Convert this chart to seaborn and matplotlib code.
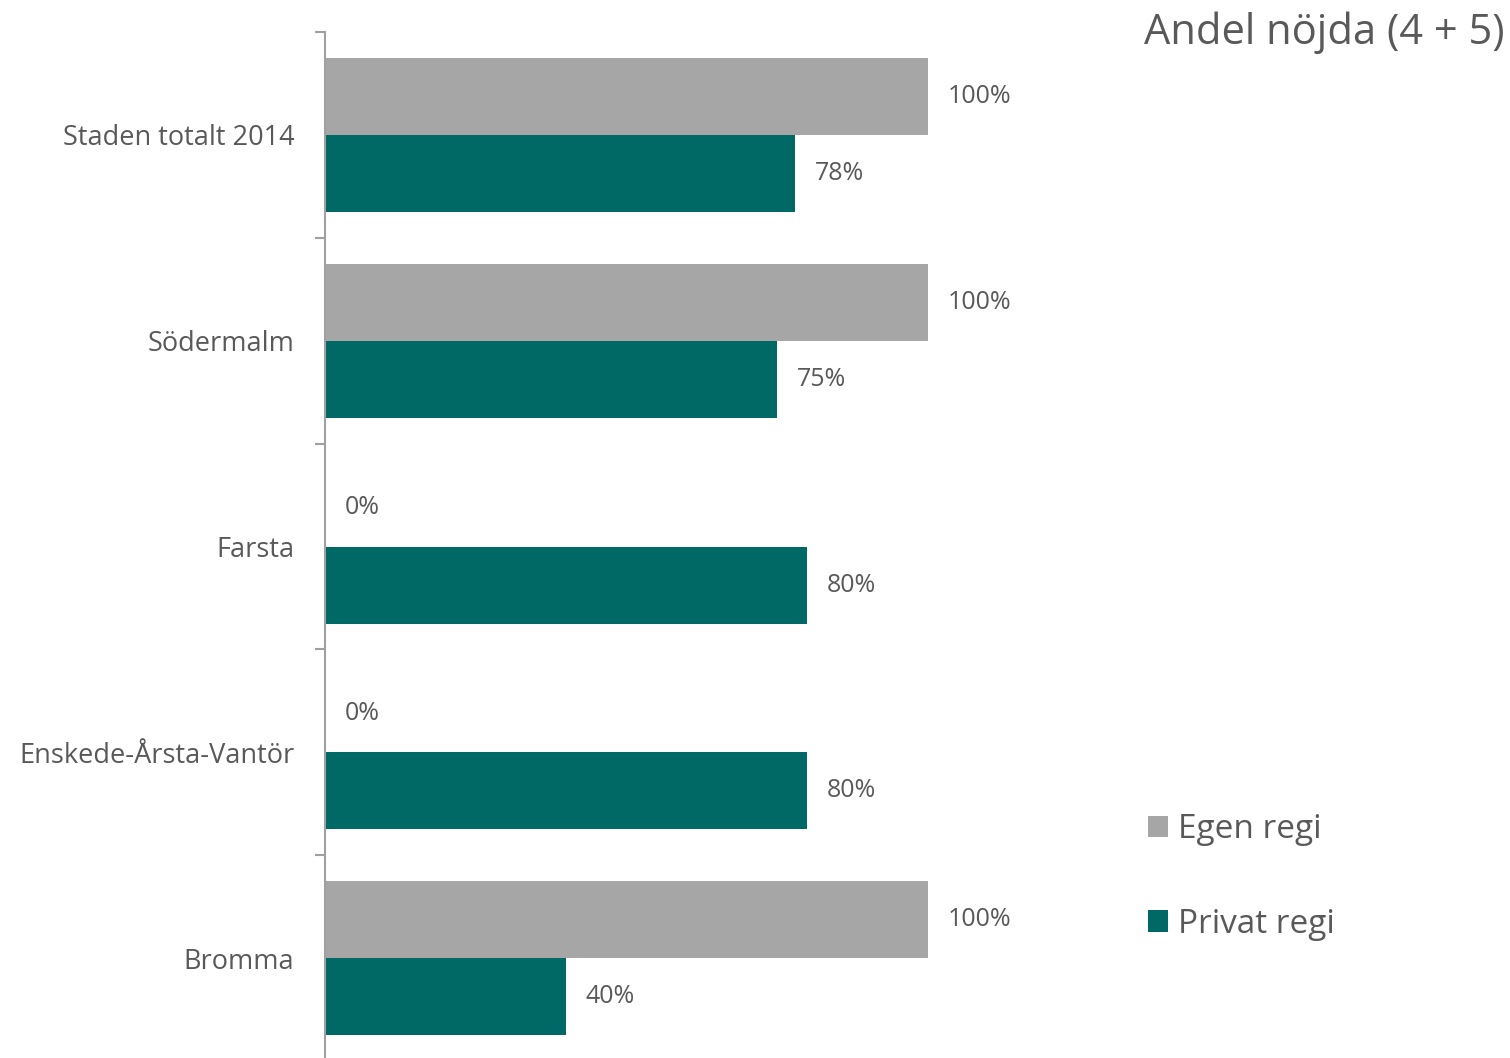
import pandas as pd
import matplotlib.pyplot as plt
import seaborn as sns

# Data
categories = ["Staden totalt 2014", "Södermalm", "Farsta", "Enskede-Årsta-Vantör", "Bromma"]
egen_regi = [100, 100, 0, 0, 100]
privat_regi = [78, 75, 80, 80, 40]
series_names = ["Egen regi", "Privat regi"]

df = pd.DataFrame({
    "Område": categories * 2,
    "Regi": [series_names[0]] * len(categories) + [series_names[1]] * len(categories),
    "Andel": egen_regi + privat_regi,
})

GRAY = "#A6A6A6"
TEAL = "#006966"
TEXT = "#595959"

sns.set_theme(style="white")
plt.rcParams["font.family"] = ["Open Sans", "DejaVu Sans"]

W, H = 1510, 1058
fig = plt.figure(figsize=(W / 100, H / 100), dpi=100)
# axes placed in pixel terms: x 325..928, y 32..1061 (top-based)
ax = fig.add_axes([325 / W, (H - 1061) / H, (928 - 325) / W, (1061 - 32) / H])

sns.barplot(
    data=df, y="Område", x="Andel", hue="Regi",
    palette=[GRAY, TEAL], width=0.75, orient="h", ax=ax,
    saturation=1, legend=True, linewidth=0,
)

ax.set_xlim(0, 100)
ax.set_ylim(len(categories) - 0.5, -0.5)
ax.set_xlabel("")
ax.set_ylabel("")
ax.set_xticks([])

for side in ["top", "right", "bottom"]:
    ax.spines[side].set_visible(False)
ax.spines["left"].set_color("#A0A0A0")
ax.spines["left"].set_linewidth(1.5)

# labels at centers, tick marks at category boundaries
ax.set_yticks(range(len(categories)))
ax.set_yticklabels(categories, fontsize=19.5, color=TEXT)
ax.tick_params(axis="y", which="major", length=0, pad=22)
ax.set_yticks([i - 0.5 for i in range(len(categories) + 1)], minor=True)
ax.tick_params(axis="y", which="minor", length=7, width=1.5, color="#A0A0A0", left=True)

# value labels
for container in ax.containers:
    labels = [f"{int(round(v))}%" for v in container.datavalues]
    ax.bar_label(container, labels=labels, padding=14, fontsize=18, color=TEXT, clip_on=False)

# legend
handles, labels = ax.get_legend_handles_labels()
ax.legend_.remove()
fig.legend(
    handles, labels, loc="upper left", bbox_to_anchor=(1118 / W, 1 - 783 / H),
    frameon=False, fontsize=24, labelcolor=TEXT, handlelength=0.6, handleheight=0.6,
    handletextpad=0.3, labelspacing=1.85,
)

fig.text(1505 / W, 1 - 33 / H, "Andel nöjda (4 + 5)", ha="right", va="center",
         fontsize=30, color=TEXT)

plt.savefig("out.png", dpi=100)
